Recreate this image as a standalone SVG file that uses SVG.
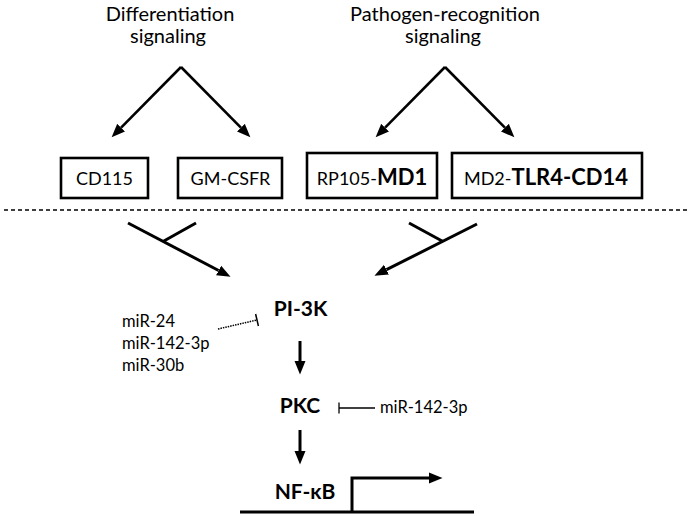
<svg xmlns="http://www.w3.org/2000/svg" width="694" height="516" viewBox="0 0 694 516">
  <style>
    text { font-family: Lato, "Open Sans", "Liberation Sans", sans-serif; fill: #000; }
    .lab { font-size: 20px; text-anchor: middle; }
    .box { fill: #fff; stroke: #000; stroke-width: 2.6; }
    .bx { font-size: 18px; }
    .bxb { font-size: 22px; font-weight: bold; }
    .node { font-size: 21px; font-weight: bold; text-anchor: middle; }
    .mir { font-size: 16.5px; }
    .ln { stroke: #000; stroke-width: 2.6; fill: none; }
    .thick { stroke: #000; stroke-width: 3; fill: none; }
  </style>
  <defs>
    <marker id="ah" markerUnits="userSpaceOnUse" markerWidth="14" markerHeight="12" refX="0" refY="6" orient="auto">
      <path d="M0,0.5 L13.5,6 L0,11.5 z" fill="#000"/>
    </marker>
  </defs>

  <g id="label-differentiation">
    <text class="lab" x="170" y="20.5">Differentiation</text>
    <text class="lab" x="168" y="43">signaling</text>
  </g>
  <g id="label-pathogen">
    <text class="lab" x="445" y="20.5">Pathogen-recognition</text>
    <text class="lab" x="443" y="43">signaling</text>
  </g>

  <g id="node-cd115">
    <rect class="box" x="61" y="158" width="87" height="40"/>
    <text class="bx" x="104.5" y="185" text-anchor="middle">CD115</text>
  </g>
  <g id="node-gmcsfr">
    <rect class="box" x="178" y="158" width="104" height="40"/>
    <text class="bx" x="230.5" y="185" text-anchor="middle">GM-CSFR</text>
  </g>
  <g id="node-rp105">
    <rect class="box" x="307" y="153" width="130" height="45"/>
    <text x="372" y="185" text-anchor="middle"><tspan class="bx">RP105-</tspan><tspan class="bxb">MD1</tspan></text>
  </g>
  <g id="node-md2">
    <rect class="box" x="452" y="153" width="190" height="45"/>
    <text x="546" y="185" text-anchor="middle"><tspan class="bx">MD2-</tspan><tspan class="bxb">TLR4-CD14</tspan></text>
  </g>

  <g id="node-pi3k">
    <text class="node" x="300.5" y="316">PI-3K</text>
  </g>
  <g id="node-mirs">
    <text class="mir" x="122" y="327">miR-24</text>
    <text class="mir" x="122" y="349">miR-142-3p</text>
    <text class="mir" x="122" y="371">miR-30b</text>
  </g>
  <g id="node-pkc">
    <text class="node" x="300" y="413">PKC</text>
  </g>
  <g id="node-mir142">
    <text class="mir" x="380" y="413">miR-142-3p</text>
  </g>
  <g id="node-nfkb">
    <text class="node" x="305" y="499">NF-κB</text>
  </g>

  <g id="connectors">
    <line x1="4" y1="210" x2="690" y2="210" stroke="#000" stroke-width="1.5" stroke-dasharray="4,3"/>

    <line class="ln" x1="181" y1="67" x2="121.1" y2="127.7" marker-end="url(#ah)"/>
    <line class="ln" x1="181" y1="67" x2="240.9" y2="127.7" marker-end="url(#ah)"/>
    <line class="ln" x1="445" y1="67" x2="385.1" y2="127.7" marker-end="url(#ah)"/>
    <line class="ln" x1="445" y1="67" x2="504.9" y2="127.7" marker-end="url(#ah)"/>

    <line class="thick" x1="128" y1="223" x2="218.6" y2="270.5" marker-end="url(#ah)"/>
    <line class="thick" x1="196" y1="223" x2="163" y2="241.5"/>
    <line class="thick" x1="477" y1="224" x2="386.5" y2="269.7" marker-end="url(#ah)"/>
    <line class="thick" x1="409" y1="223" x2="443" y2="241.5"/>

    <line x1="218" y1="329" x2="257" y2="320" stroke="#000" stroke-width="1.5" stroke-dasharray="1.5,1"/>
    <line x1="255.6" y1="314" x2="258.4" y2="326" stroke="#000" stroke-width="1.5"/>

    <line class="thick" x1="300" y1="341" x2="300" y2="361" marker-end="url(#ah)"/>
    <line class="thick" x1="300" y1="430" x2="300" y2="451" marker-end="url(#ah)"/>

    <line x1="339" y1="408" x2="375" y2="408" stroke="#000" stroke-width="1.3"/>
    <line x1="339" y1="402.5" x2="339" y2="413.5" stroke="#000" stroke-width="1.3"/>

    <line class="thick" x1="240" y1="512" x2="474" y2="512"/>
    <polyline class="thick" points="352,512 352,478 429,478" marker-end="url(#ah)"/>
  </g>
</svg>
